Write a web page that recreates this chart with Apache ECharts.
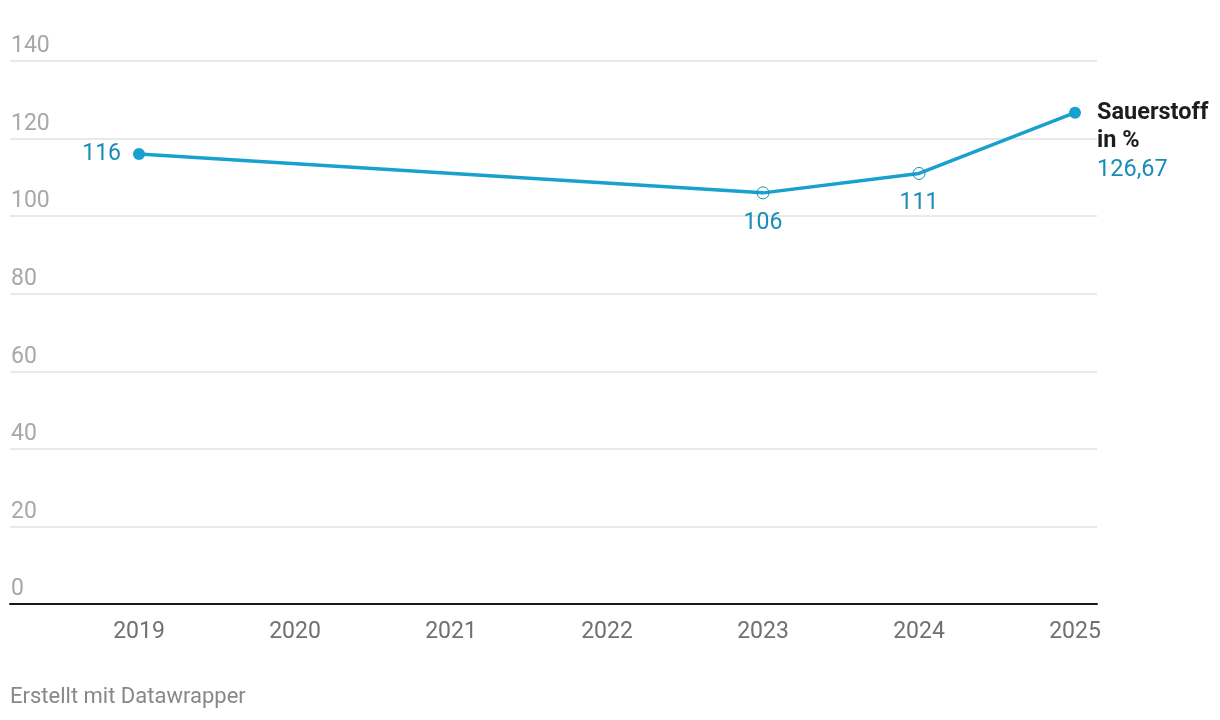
<!DOCTYPE html>
<html>
<head>
<meta charset="utf-8">
<script src="https://cdn.jsdelivr.net/npm/echarts@6/dist/echarts.min.js"></script>
<style>
html,body{margin:0;padding:0;background:#fff;}
#chart{width:1220px;height:720px;}
</style>
</head>
<body>
<div id="chart"></div>
<script>
const years = [2019, 2023, 2024, 2025];
const values = [116, 106, 111, 126.67];
const valueLabels = ['116', '106', '111', '126,67'];
const xTickLabels = [2019, 2020, 2021, 2022, 2023, 2024, 2025];
const seriesName = 'Sauerstoff\nin %';

const chart = echarts.init(document.getElementById('chart'));
const blue = '#18a1cf';
const labelBlue = '#1a8cb8';
const font = 'Roboto, "Noto Sans", sans-serif';

const data = years.map((y, i) => {
  const item = { value: [y, values[i]] };
  if (i === 0) {
    item.symbol = 'circle';
    item.symbolSize = 12;
    item.label = { show: true, position: 'left', distance: 12, formatter: valueLabels[i] };
  } else if (i === years.length - 1) {
    item.symbol = 'circle';
    item.symbolSize = 12;
    item.label = {
      show: true, position: 'right', distance: 16, offset: [0, 28.5],
      formatter: '{n|Sauerstoff}\n{n|in %}\n{v|' + valueLabels[i] + '}',
      rich: {
        n: { fontFamily: font, fontSize: 23.5, fontWeight: 'bold', color: '#1d1d1d', lineHeight: 28.5 },
        v: { fontFamily: font, fontSize: 23.5, color: labelBlue, lineHeight: 28.5 }
      }
    };
  } else {
    item.symbol = 'circle';
    item.symbolSize = 12;
    item.itemStyle = { color: 'rgba(255,255,255,0)', borderColor: '#1a8cb8', borderWidth: 1 };
    item.label = { show: true, position: 'bottom', distance: 12, formatter: valueLabels[i] };
  }
  return item;
});

chart.setOption({
  animation: false,
  textStyle: { fontFamily: font },
  grid: { left: 10, right: 123, top: 61, bottom: 116, containLabel: false },
  xAxis: {
    type: 'value',
    min: 2018.173,
    max: 2025.141,
    axisLine: { show: true, lineStyle: { color: '#1a1a1a', width: 2 } },
    axisTick: { show: false },
    splitLine: { show: false },
    axisLabel: {
      customValues: xTickLabels,
      formatter: v => String(v),
      color: '#707070', fontSize: 23, margin: 17, fontFamily: font
    }
  },
  yAxis: {
    type: 'value',
    min: 0, max: 140, interval: 20,
    axisLine: { show: false },
    axisTick: { show: false },
    splitLine: { lineStyle: { color: '#e2e2e2', width: 1.5 } },
    axisLabel: {
      inside: true, margin: 1, align: 'left', verticalAlign: 'bottom',
      padding: [0, 0, 3, 0],
      color: '#a8a8a8', fontSize: 23, fontFamily: font
    }
  },
  series: [{
    name: seriesName,
    type: 'line',
    data: data,
    lineStyle: { color: blue, width: 3.5 },
    itemStyle: { color: blue },
    label: { color: labelBlue, fontSize: 23, fontFamily: font },
    z: 5
  }],
  graphic: [{
    type: 'text', left: 10, top: 686,
    style: { text: 'Erstellt mit Datawrapper', fill: '#888888', fontSize: 22, fontFamily: font }
  }]
});
</script>
</body>
</html>
